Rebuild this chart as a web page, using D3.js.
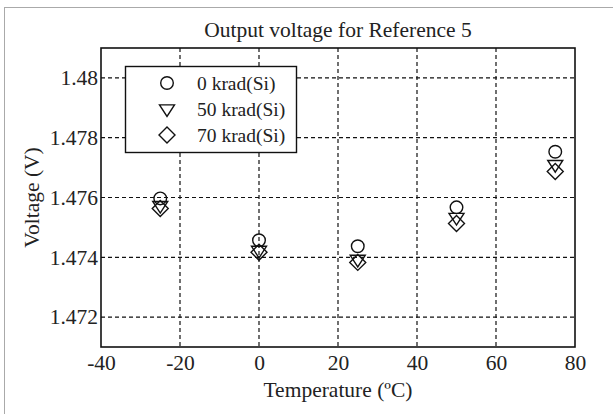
<!DOCTYPE html>
<html>
<head>
<meta charset="utf-8">
<script src="https://cdn.jsdelivr.net/npm/d3@7"></script>
<style>
  html, body { margin: 0; padding: 0; background: #fff; }
  svg { display: block; }
  text { font-family: "Liberation Serif", "DejaVu Serif", serif; fill: #222; }
</style>
</head>
<body>
<svg id="chart" width="613" height="414"></svg>
<script>
// Temperatures (°C) at which the reference output was measured
const temperatures = [-25, 0, 25, 50, 75];

// Output voltage (V) for each total dose
const v0krad  = [1.47597, 1.47457, 1.47437, 1.47567, 1.47753];
const v50krad = [1.47573, 1.47423, 1.47393, 1.47533, 1.47710];
const v70krad = [1.47563, 1.47417, 1.47383, 1.47513, 1.47687];

const seriesNames = ["0 krad(Si)", "50 krad(Si)", "70 krad(Si)"];
const seriesSymbols = ["circle", "triangle", "diamond"];
const seriesValues = [v0krad, v50krad, v70krad];

const xTicks = [-40, -20, 0, 20, 40, 60, 80];
const yTicks = [1.472, 1.474, 1.476, 1.478, 1.48];

const titleText = "Output voltage for Reference 5";
const xLabel = "Temperature (ºC)";
const yLabel = "Voltage (V)";

const svg = d3.select("#chart");
const m = { left: 101, right: 575, top: 48, bottom: 347 };

// outer frame
svg.append("rect")
  .attr("x", 4.5).attr("y", 7.5).attr("width", 700).attr("height", 600)
  .attr("fill", "none").attr("stroke", "#aaa").attr("stroke-width", 1);

const x = d3.scaleLinear().domain([-40, 80]).range([m.left, m.right]);
const y = d3.scaleLinear().domain([1.471, 1.481]).range([m.bottom, m.top]);

// grid
const grid = svg.append("g");
grid.selectAll("line.vx").data(xTicks.slice(1, -1)).join("line")
  .attr("x1", d => x(d)).attr("x2", d => x(d))
  .attr("y1", m.top).attr("y2", m.bottom)
  .attr("stroke", "#111").attr("stroke-width", 1.2).attr("stroke-dasharray", "4,3");
grid.selectAll("line.hy").data(yTicks).join("line")
  .attr("x1", m.left).attr("x2", m.right)
  .attr("y1", d => y(d)).attr("y2", d => y(d))
  .attr("stroke", "#111").attr("stroke-width", 1.2).attr("stroke-dasharray", "4,3");

// axes (plain hyphen for negatives)
const xAxis = svg.append("g").attr("transform", `translate(0,${m.bottom})`)
  .call(d3.axisBottom(x).tickValues(xTicks).tickFormat(d => String(d)).tickSize(0).tickPadding(8));
const yAxis = svg.append("g").attr("transform", `translate(${m.left},0)`)
  .call(d3.axisLeft(y).tickValues(yTicks).tickFormat(d => d === 1.48 ? "1.48" : d3.format(".3f")(d)).tickSize(0).tickPadding(3));
[xAxis, yAxis].forEach(a => {
  a.select(".domain").remove();
  a.attr("font-size", 21.5).attr("font-family", "'Liberation Serif', 'DejaVu Serif', serif");
  a.selectAll("text").attr("fill", "#222");
});
xAxis.selectAll("text").attr("dy", "0.71em");

// plot frame
svg.append("rect")
  .attr("x", m.left).attr("y", m.top)
  .attr("width", m.right - m.left).attr("height", m.bottom - m.top)
  .attr("fill", "none").attr("stroke", "#111").attr("stroke-width", 1.6);

// marker shapes
function symbolPath(kind) {
  if (kind === "circle") {
    return d3.symbol().type(d3.symbolCircle).size(Math.PI * 6.3 * 6.3)();
  }
  if (kind === "triangle") {
    const s = 7.5;
    return `M${-s},${-s * 0.55}L${s},${-s * 0.55}L0,${s * 1.0}Z`;
  }
  const d = 8;
  return `M0,${-d}L${d},0L0,${d}L${-d},0Z`;
}

// points
seriesValues.forEach((vals, i) => {
  svg.append("g").selectAll("path").data(vals).join("path")
    .attr("transform", (v, j) => `translate(${x(temperatures[j])},${y(v)})`)
    .attr("d", symbolPath(seriesSymbols[i]))
    .attr("fill", "none").attr("stroke", "#111").attr("stroke-width", 1.4);
});

// legend
const leg = svg.append("g");
leg.append("rect")
  .attr("x", 125.5).attr("y", 66.5).attr("width", 171).attr("height", 86)
  .attr("fill", "#fff").attr("stroke", "#111").attr("stroke-width", 1.4);
seriesNames.forEach((name, i) => {
  const cy = 83 + i * 26;
  leg.append("path")
    .attr("transform", `translate(167,${cy})`)
    .attr("d", symbolPath(seriesSymbols[i]))
    .attr("fill", "none").attr("stroke", "#111").attr("stroke-width", 1.4);
  leg.append("text").attr("x", 197).attr("y", cy).attr("dy", "0.35em")
    .attr("font-size", 19.5).text(name);
});

// title and axis labels
svg.append("text").attr("x", (m.left + m.right) / 2).attr("y", 37)
  .attr("text-anchor", "middle").attr("font-size", 21.5).text(titleText);
svg.append("text").attr("x", (m.left + m.right) / 2).attr("y", 397)
  .attr("text-anchor", "middle").attr("font-size", 21.5).text(xLabel);
svg.append("text")
  .attr("transform", `translate(39,${(m.top + m.bottom) / 2}) rotate(-90)`)
  .attr("text-anchor", "middle").attr("font-size", 21.5).text(yLabel);
</script>
</body>
</html>
